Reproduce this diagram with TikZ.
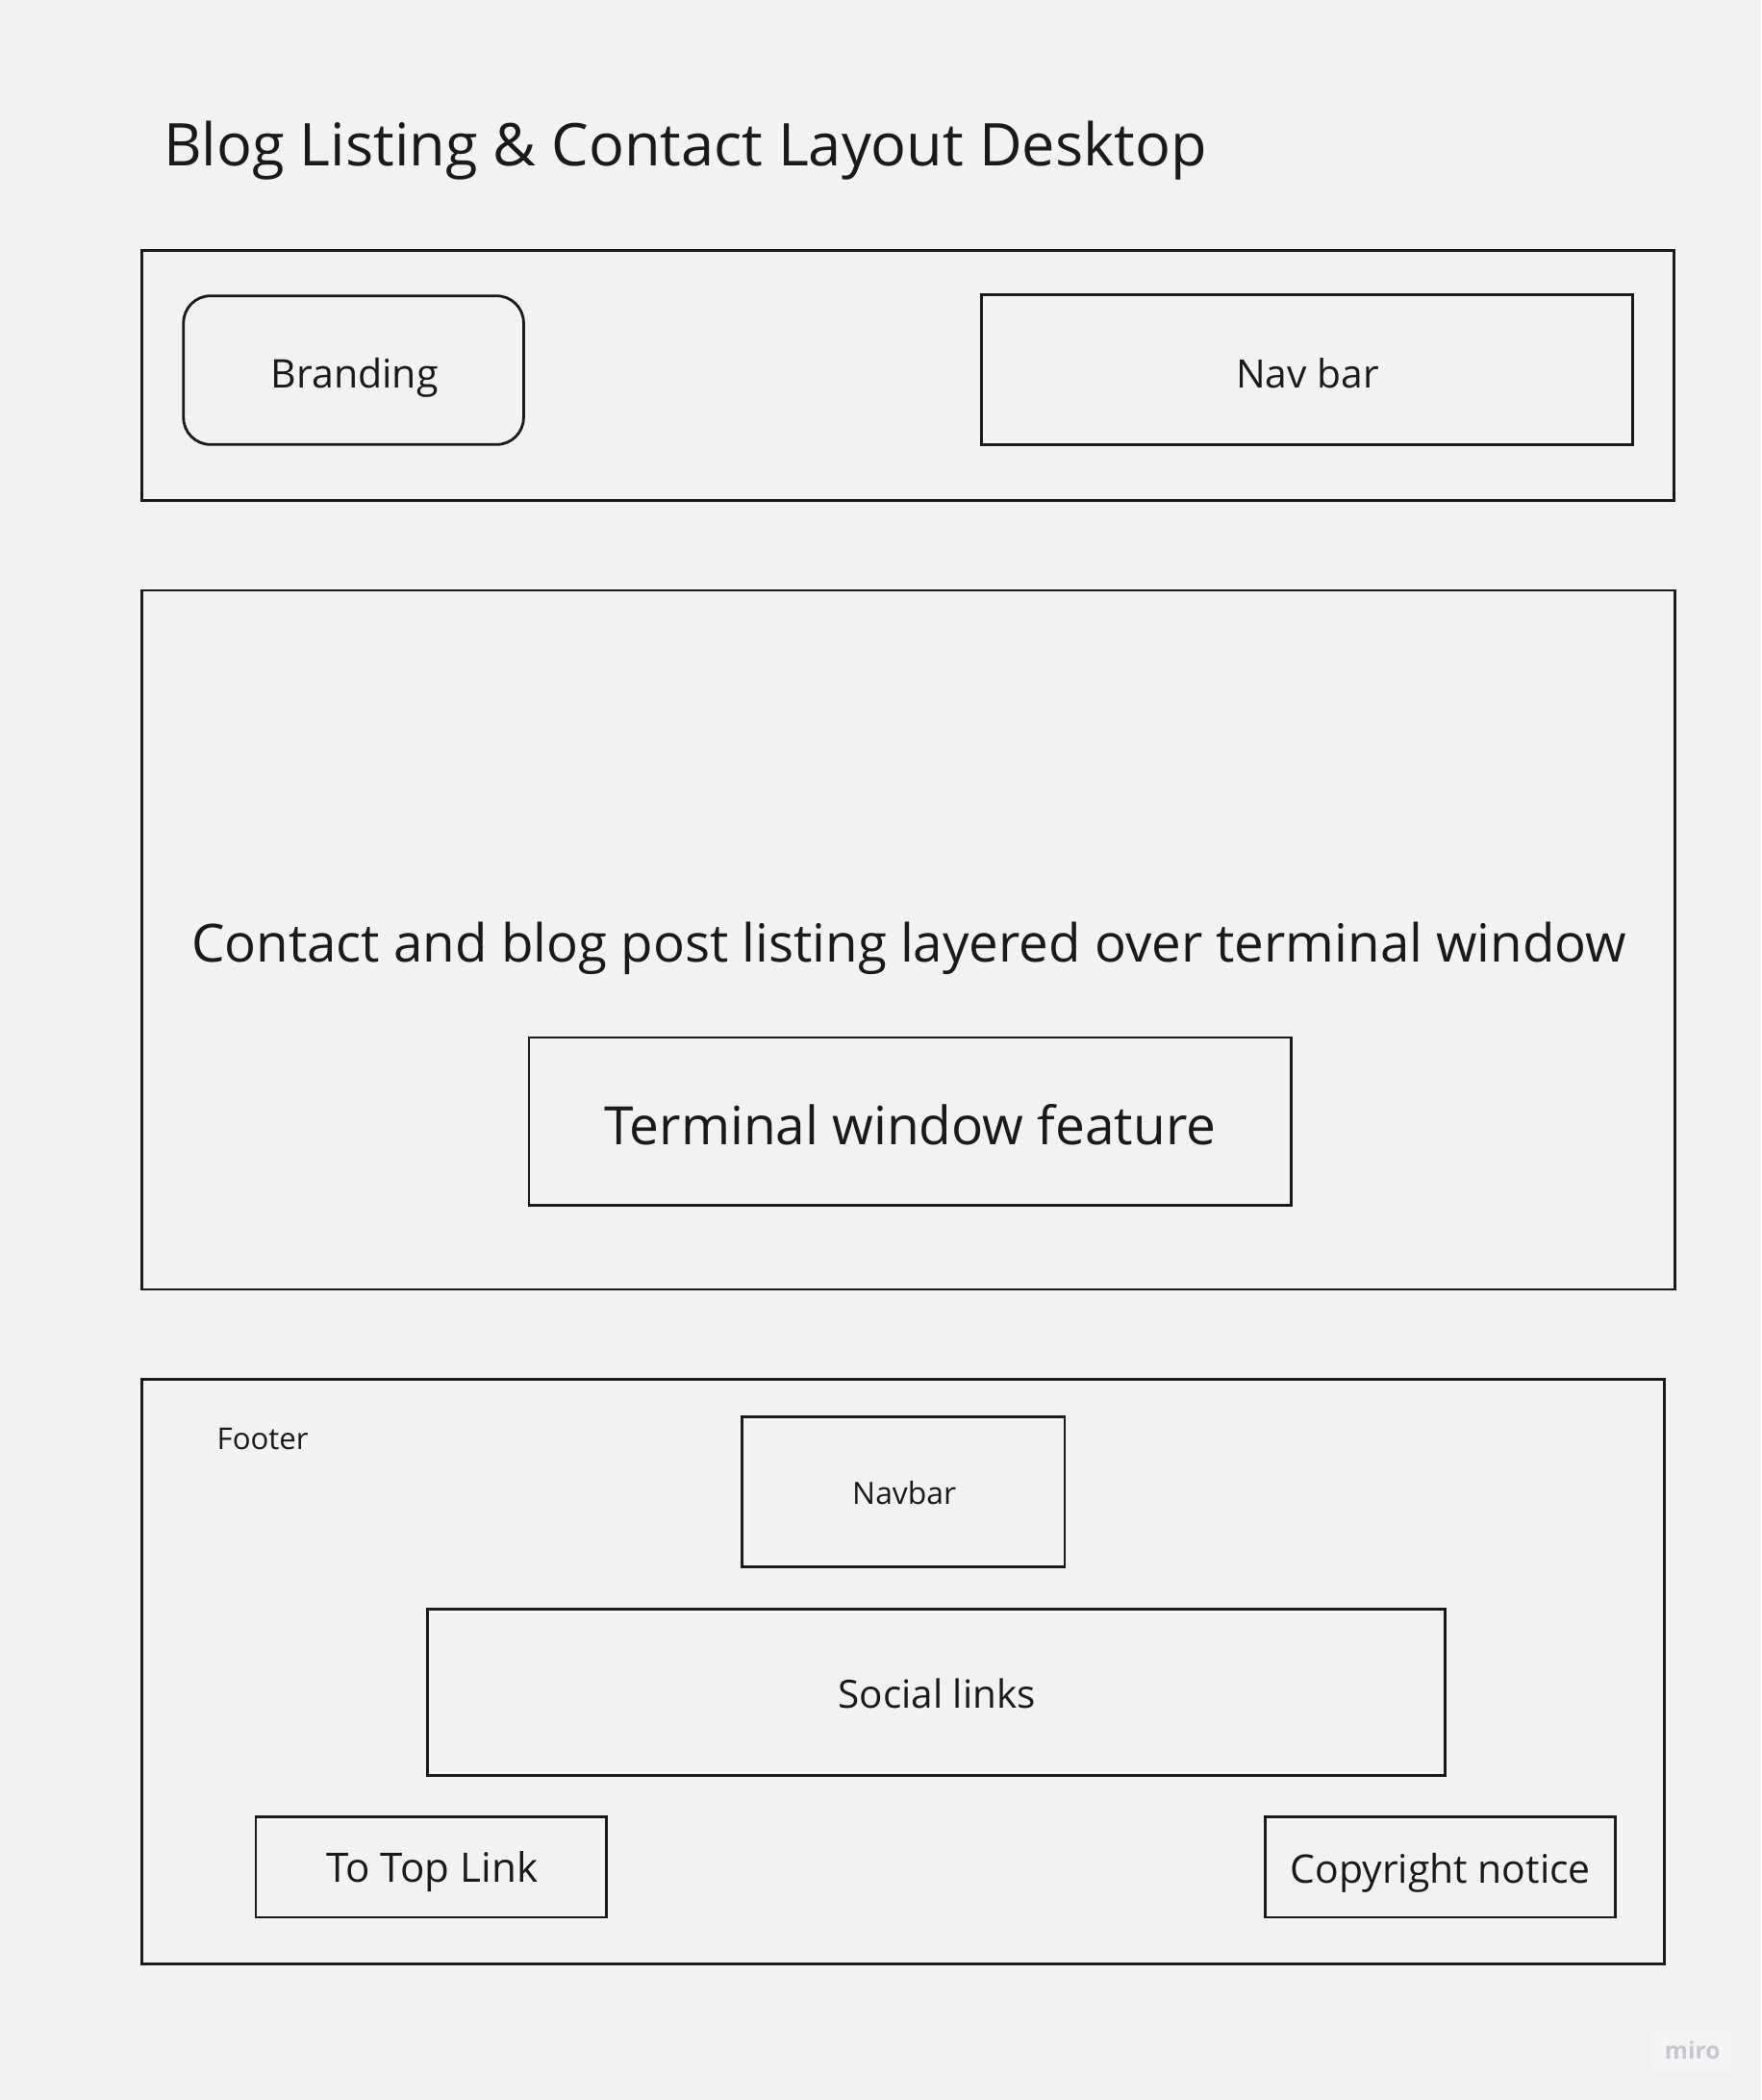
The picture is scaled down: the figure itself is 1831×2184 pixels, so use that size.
\documentclass[tikz,border=0pt]{standalone}
\usepackage{fontspec}
\setmainfont{Open Sans}
\usepackage{graphicx}
\definecolor{bg}{HTML}{F2F2F2}
\definecolor{ink}{HTML}{1A1A1A}
\definecolor{wm}{HTML}{C6C6D0}
\definecolor{wmbg}{HTML}{F4F4F4}
\newcommand{\fitw}[2]{\resizebox{#1pt}{!}{#2}}
\begin{document}
\begin{tikzpicture}[x=1pt,y=-1pt,
  frame/.style={draw=ink, line width=2.8pt, inner sep=0pt},
  lbl/.style={text=ink, inner sep=0pt, anchor=base west}]
\fill[bg] (0,0) rectangle (1831,2184);
\useasboundingbox (0,0) rectangle (1831,2184);

% title
\node[lbl] (title) at (170,172) {\fitw{1084}{Blog Listing \& Contact Layout Desktop}};

% header
\node[frame, minimum width=1593pt, minimum height=260.4pt] (header) at (944,390.6) {};
\node[frame, rounded corners=28pt, minimum width=353.6pt, minimum height=154.6pt] (branding) at (367.6,385) {};
\node[lbl] (brandingtext) at (281.5,403.3) {\fitw{174}{Branding}};
\node[frame, minimum width=676.7pt, minimum height=156pt] (navtop) at (1359,384.3) {};
\node[lbl] (navtoptext) at (1285,403) {\fitw{148.5}{Nav bar}};

% main
\node[frame, minimum width=1594.3pt, minimum height=726.9pt] (main) at (944.7,977.5) {};
\node[lbl] (maintext) at (199,1000.7) {\fitw{1492}{Contact and blog post listing layered over terminal window}};
\node[frame, minimum width=792.3pt, minimum height=174.2pt] (terminal) at (946.2,1166.1) {};
\node[lbl] (terminaltext) at (628,1190) {\fitw{636}{Terminal window feature}};

% footer
\node[frame, minimum width=1583.2pt, minimum height=608.4pt] (footer) at (939.2,1738.4) {};
\node[lbl] (footertext) at (225.5,1507.7) {\fitw{95}{Footer}};
\node[frame, minimum width=335.6pt, minimum height=155.9pt] (navfoot) at (939.2,1551.2) {};
\node[lbl] (navfoottext) at (886,1564) {\fitw{108}{Navbar}};
\node[frame, minimum width=1058.2pt, minimum height=172.6pt] (social) at (973.3,1760) {};
\node[lbl] (socialtext) at (871.5,1776.7) {\fitw{205}{Social links}};
\node[frame, minimum width=364.8pt, minimum height=104.5pt] (totop) at (448.4,1941.8) {};
\node[lbl] (totoptext) at (339,1957.7) {\fitw{220}{To Top Link}};
\node[frame, minimum width=363.4pt, minimum height=104.5pt] (copyright) at (1497.5,1941.8) {};
\node[lbl] (copyrighttext) at (1341.5,1958.3) {\fitw{312}{Copyright notice}};

% watermark
\node[fill=wmbg, inner sep=0pt, minimum width=85pt, minimum height=45pt] (wmbox) at (1759,2132.5) {};
\node[lbl, text=wm] (wmtext) at (1730.7,2141.7) {\fitw{57.6}{\bfseries miro}};
\end{tikzpicture}
\end{document}
